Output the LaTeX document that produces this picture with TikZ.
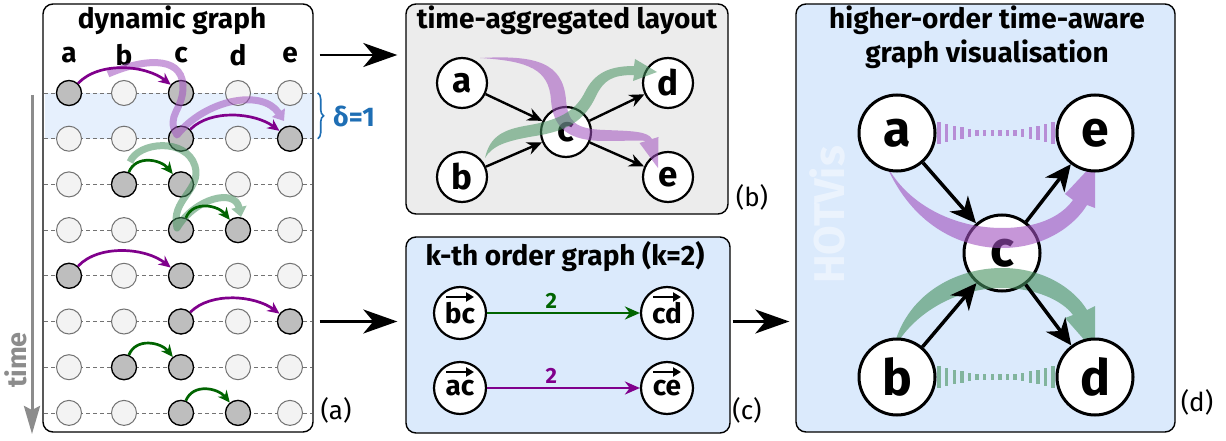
\documentclass[tikz,border=0pt]{standalone}
\usepackage{fontspec}
\setmainfont{Fira Sans}
\usetikzlibrary{arrows.meta,positioning,decorations.pathreplacing,calc}

\definecolor{hvPurple}{RGB}{128,0,140}
\definecolor{hvGreen}{RGB}{0,100,0}
\definecolor{bandPurple}{RGB}{160,80,190}
\definecolor{bandGreen}{RGB}{70,145,95}
\definecolor{panelBlue}{RGB}{219,234,252}
\definecolor{panelGray}{RGB}{236,236,236}
\definecolor{slotBlue}{RGB}{230,240,253}
\definecolor{deltaBlue}{RGB}{30,110,180}
\definecolor{idleFill}{RGB}{243,243,243}
\definecolor{busyFill}{RGB}{190,190,190}
\definecolor{timeGray}{RGB}{140,140,140}

\newcommand{\fs}[1]{\fontsize{#1}{#1}\selectfont}

\tikzset{
  panel/.style={draw, rounded corners=10pt, line width=1.4pt, inner sep=0pt},
  title/.style={font=\fs{28}\bfseries, inner sep=0pt},
  sublabel/.style={font=\fs{26}, inner sep=0pt},
  collabel/.style={font=\fs{28}\bfseries, inner sep=0pt},
  rowline/.style={black!55, line width=.8pt, dash pattern=on 4pt off 3pt},
  idle/.style={circle, draw=black!55, fill=idleFill, line width=1pt, minimum size=25pt, inner sep=0pt},
  busy/.style={circle, draw=black, fill=busyFill, line width=1.3pt, minimum size=25pt, inner sep=0pt},
  tarc/.style={#1, line width=2.7pt, -{Stealth[length=12pt,width=11pt]}},
  bandline/.style={#1, line width=7pt, line join=round, -{Triangle[length=10pt,width=15pt]}},
  aggnode/.style={circle, draw, line width=2.2pt, fill=white, minimum size=50pt, inner sep=0pt, font=\fs{35}\bfseries},
  aggedge/.style={line width=2.4pt, -{Stealth[length=15pt,width=13pt]}},
  knode/.style={circle, draw, line width=2.2pt, fill=white, minimum size=52pt, inner sep=0pt, font=\fs{28}\bfseries},
  vecbar/.style={line width=2.4pt, -{Triangle[length=8pt,width=9pt]}},
  korder/.style={#1, line width=2.4pt, -{Stealth[length=15pt,width=13pt]}},
  weight/.style={above=3pt, font=\fs{22}\bfseries, inner sep=0pt},
  honode/.style={circle, draw, line width=3pt, fill=white, minimum size=76pt, inner sep=0pt, font=\fs{50}\bfseries},
  hoedge/.style={line width=3.5pt, -{Stealth[length=26pt,width=24pt,inset=8pt]}},
  flow/.style={line width=2.5pt, -{Stealth[length=34pt,width=24pt,inset=10pt]}},
}

\begin{document}
\begin{tikzpicture}[x=1pt,y=-1pt]
\useasboundingbox (0,0) rectangle (1226,441);

% (a) dynamic graph
\node[panel, fill=white, minimum width=270pt, minimum height=428pt] (pa) at (178,218) {};
\fill[slotBlue] (44.5,93) rectangle (311.5,138.7);
\foreach \r in {1,...,8}
  \draw[rowline] (44,{93+45.7*(\r-1)}) -- (312,{93+45.7*(\r-1)});
\node[title] (ta) at (172,20) {dynamic graph};
\foreach \c/\x in {a/69,b/124,c/181,d/238,e/290}{
  \node[collabel] (lbl-\c) at (\x,55) {\c};
  \foreach \r in {1,...,8}
    \node[idle] (\c\r) at (\x,{93+45.7*(\r-1)}) {};
}
\foreach \n in {a1,c1,c2,e2,b3,c3,c4,d4,a5,c5,c6,e6,b7,c7,c8,d8}
  \node[busy] (\n-on) at (\n) {};

\begin{scope}[transparency group, opacity=.55]
\draw[bandline=bandPurple] (108,74) .. controls (140,60) and (181,54) .. (183,85)
  .. controls (184,110) and (165,115) .. (177,135)
  .. controls (205,100) and (262,88) .. (284,121);
\end{scope}
\begin{scope}[transparency group, opacity=.55]
\draw[bandline=bandGreen] (130,162) .. controls (138,142) and (186,137) .. (195,166)
  .. controls (202,190) and (170,200) .. (177,228)
  .. controls (195,198) and (235,188) .. (241,217);
\end{scope}

\draw[tarc=hvPurple] (a1-on) .. controls +(30,-32) and +(-35,-28) .. (c1-on);
\draw[tarc=hvPurple] (c2-on) .. controls +(30,-30) and +(-35,-26) .. (e2-on);
\draw[tarc=hvGreen] (b3-on) .. controls +(12,-30) and +(-20,-25) .. (c3-on);
\draw[tarc=hvGreen] (c4-on) .. controls +(12,-30) and +(-20,-25) .. (d4-on);
\draw[tarc=hvPurple] (a5-on) .. controls +(30,-32) and +(-35,-28) .. (c5-on);
\draw[tarc=hvPurple] (c6-on) .. controls +(30,-30) and +(-35,-26) .. (e6-on);
\draw[tarc=hvGreen] (b7-on) .. controls +(12,-30) and +(-20,-25) .. (c7-on);
\draw[tarc=hvGreen] (c8-on) .. controls +(12,-30) and +(-20,-25) .. (d8-on);

\draw[deltaBlue, line width=1.6pt, decorate, decoration={brace, amplitude=6pt}]
  ($(pa.east |- e1)+(4,0)$) -- ($(pa.east |- e2)+(4,0)$);
\node[font=\fs{27}\bfseries, text=deltaBlue, inner sep=0pt] (delta) at (354,116) {δ=1};

\coordinate (tA) at (32,95);
\coordinate (tB) at (32,434);
\draw[timeGray, line width=3pt, -{Stealth[length=28pt,width=16pt,inset=4pt]}] (tA) -- (tB);
\node[rotate=90, font=\fs{27}\bfseries, text=timeGray, inner sep=0pt] (time) at (16,360) {time};
\node[sublabel] (la) at (336,410) {(a)};

% (b) time-aggregated layout
\node[panel, fill=panelGray, minimum width=322pt, minimum height=210pt] (pb) at (567,109) {};
\node[title] (tb) at (567,20) {time-aggregated layout};
\node[aggnode] (ag-a) at (462,83) {a};
\node[aggnode] (ag-b) at (462,177) {b};
\node[aggnode] (ag-c) at (566,132) {c};
\node[aggnode] (ag-d) at (668,83) {d};
\node[aggnode] (ag-e) at (668,177) {e};
\draw[aggedge] (ag-a) -- (ag-c);
\draw[aggedge] (ag-b) -- (ag-c);
\draw[aggedge] (ag-c) -- (ag-d);
\draw[aggedge] (ag-c) -- (ag-e);
\fill[bandPurple, opacity=.55] (480,58) .. controls (535,55) and (563,62) .. (566,100)
  .. controls (568,122) and (575,129) .. (605,130) .. controls (630,131) and (648,131) .. (652,139)
  -- (658.5,137) -- (658,168) -- (639.5,143) -- (646,141)
  .. controls (640,140) and (625,141) .. (605,141) .. controls (568,141) and (553,128) .. (551,100)
  .. controls (549,70) and (530,61) .. cycle;
\fill[bandGreen, opacity=.55] (485,158) .. controls (490,135) and (505,129) .. (530,125)
  .. controls (558,120) and (575,112) .. (585,92) .. controls (594,74) and (608,66) .. (634,66)
  -- (635,59) -- (657,72) -- (633,81) -- (634,75)
  .. controls (612,75) and (604,80) .. (596,96) .. controls (585,120) and (568,131) .. (535,136)
  .. controls (505,141) and (492,146) .. cycle;
\node[sublabel] (lb) at (752,197) {(b)};

% (c) k-th order graph
\node[panel, fill=panelBlue, minimum width=324pt, minimum height=196pt] (pc) at (568,335) {};
\node[title] (tc) at (565,257) {k-th order graph (k=2)};
\node[knode] (k-bc) at (460,313) {bc};
\node[knode] (k-cd) at (667,313) {cd};
\node[knode] (k-ac) at (460,388) {ac};
\node[knode] (k-ce) at (667,388) {ce};
\foreach \n in {k-bc,k-cd,k-ac,k-ce}
  \draw[vecbar] ($(\n)+(-14,-16)$) -- ($(\n)+(14,-16)$);
\draw[korder=hvGreen] (k-bc) -- node[weight, text=hvGreen, pos=.42] {2} (k-cd);
\draw[korder=hvPurple] (k-ac) -- node[weight, text=hvPurple, pos=.42] {2} (k-ce);
\node[sublabel] (lc) at (747,410) {(c)};

% (d) higher-order time-aware graph visualisation
\node[panel, fill=panelBlue, minimum width=379pt, minimum height=428pt] (pd) at (985.5,218) {};
\node[rotate=90, text=white, text opacity=.45, font=\fs{43}\bfseries, inner sep=0pt] (wm) at (827,215) {HOTVis};
\node[title, align=center, font=\fontsize{28}{34}\selectfont\bfseries] (td) at (987,37) {higher-order time-aware\\graph visualisation};
\node[honode] (ho-c) at (1002,253) {c};
\fill[bandPurple, opacity=.6] (884,160) .. controls (910,225) and (960,248) .. (1002,248)
  .. controls (1045,248) and (1075,225) .. (1087,205)
  -- (1095,208) -- (1095,162) -- (1065,194) -- (1073,200)
  .. controls (1060,218) and (1035,228) .. (1002,228)
  .. controls (955,228) and (905,205) .. cycle;
\fill[bandGreen, opacity=.6] (893,350) .. controls (905,295) and (955,268) .. (1002,268)
  .. controls (1045,268) and (1075,290) .. (1087,310)
  -- (1095,306) -- (1095,352) -- (1065,318) -- (1073,315)
  .. controls (1062,300) and (1035,288) .. (1002,288)
  .. controls (960,288) and (915,310) .. cycle;
\foreach \i in {0,...,15}{
  \pgfmathsetmacro\sx{939+7.6*\i}
  \pgfmathsetmacro\sh{2.5+8.5*((\i-7.5)/7.5)^2}
  \fill[bandPurple, opacity=.6] (\sx-1.7,133-\sh) rectangle (\sx+1.7,133+\sh);
  \fill[bandGreen, opacity=.6] (\sx-1.7,377-\sh) rectangle (\sx+1.7,377+\sh);
}
\node[honode] (ho-a) at (897,133) {a};
\node[honode] (ho-e) at (1095,133) {e};
\node[honode] (ho-b) at (897,377) {b};
\node[honode] (ho-d) at (1095,377) {d};
\draw[hoedge] (ho-a) -- (ho-c);
\draw[hoedge] (ho-c) -- (ho-e);
\draw[hoedge] (ho-b) -- (ho-c);
\draw[hoedge] (ho-c) -- (ho-d);
\node[sublabel] (ld) at (1197,402) {(d)};

% flow between panels
\draw[flow] ($(pa.east |- lbl-e)+(6,0)$) -- ($(pb.west |- lbl-e)+(-8,0)$);
\draw[flow] ($(pa.east |- e6)+(6,0)$) -- ($(pc.west |- e6)+(-8,0)$);
\draw[flow] ($(pc.east |- e6)+(2,0)$) -- ($(pd.west |- e6)+(-6,0)$);
\end{tikzpicture}
\end{document}
